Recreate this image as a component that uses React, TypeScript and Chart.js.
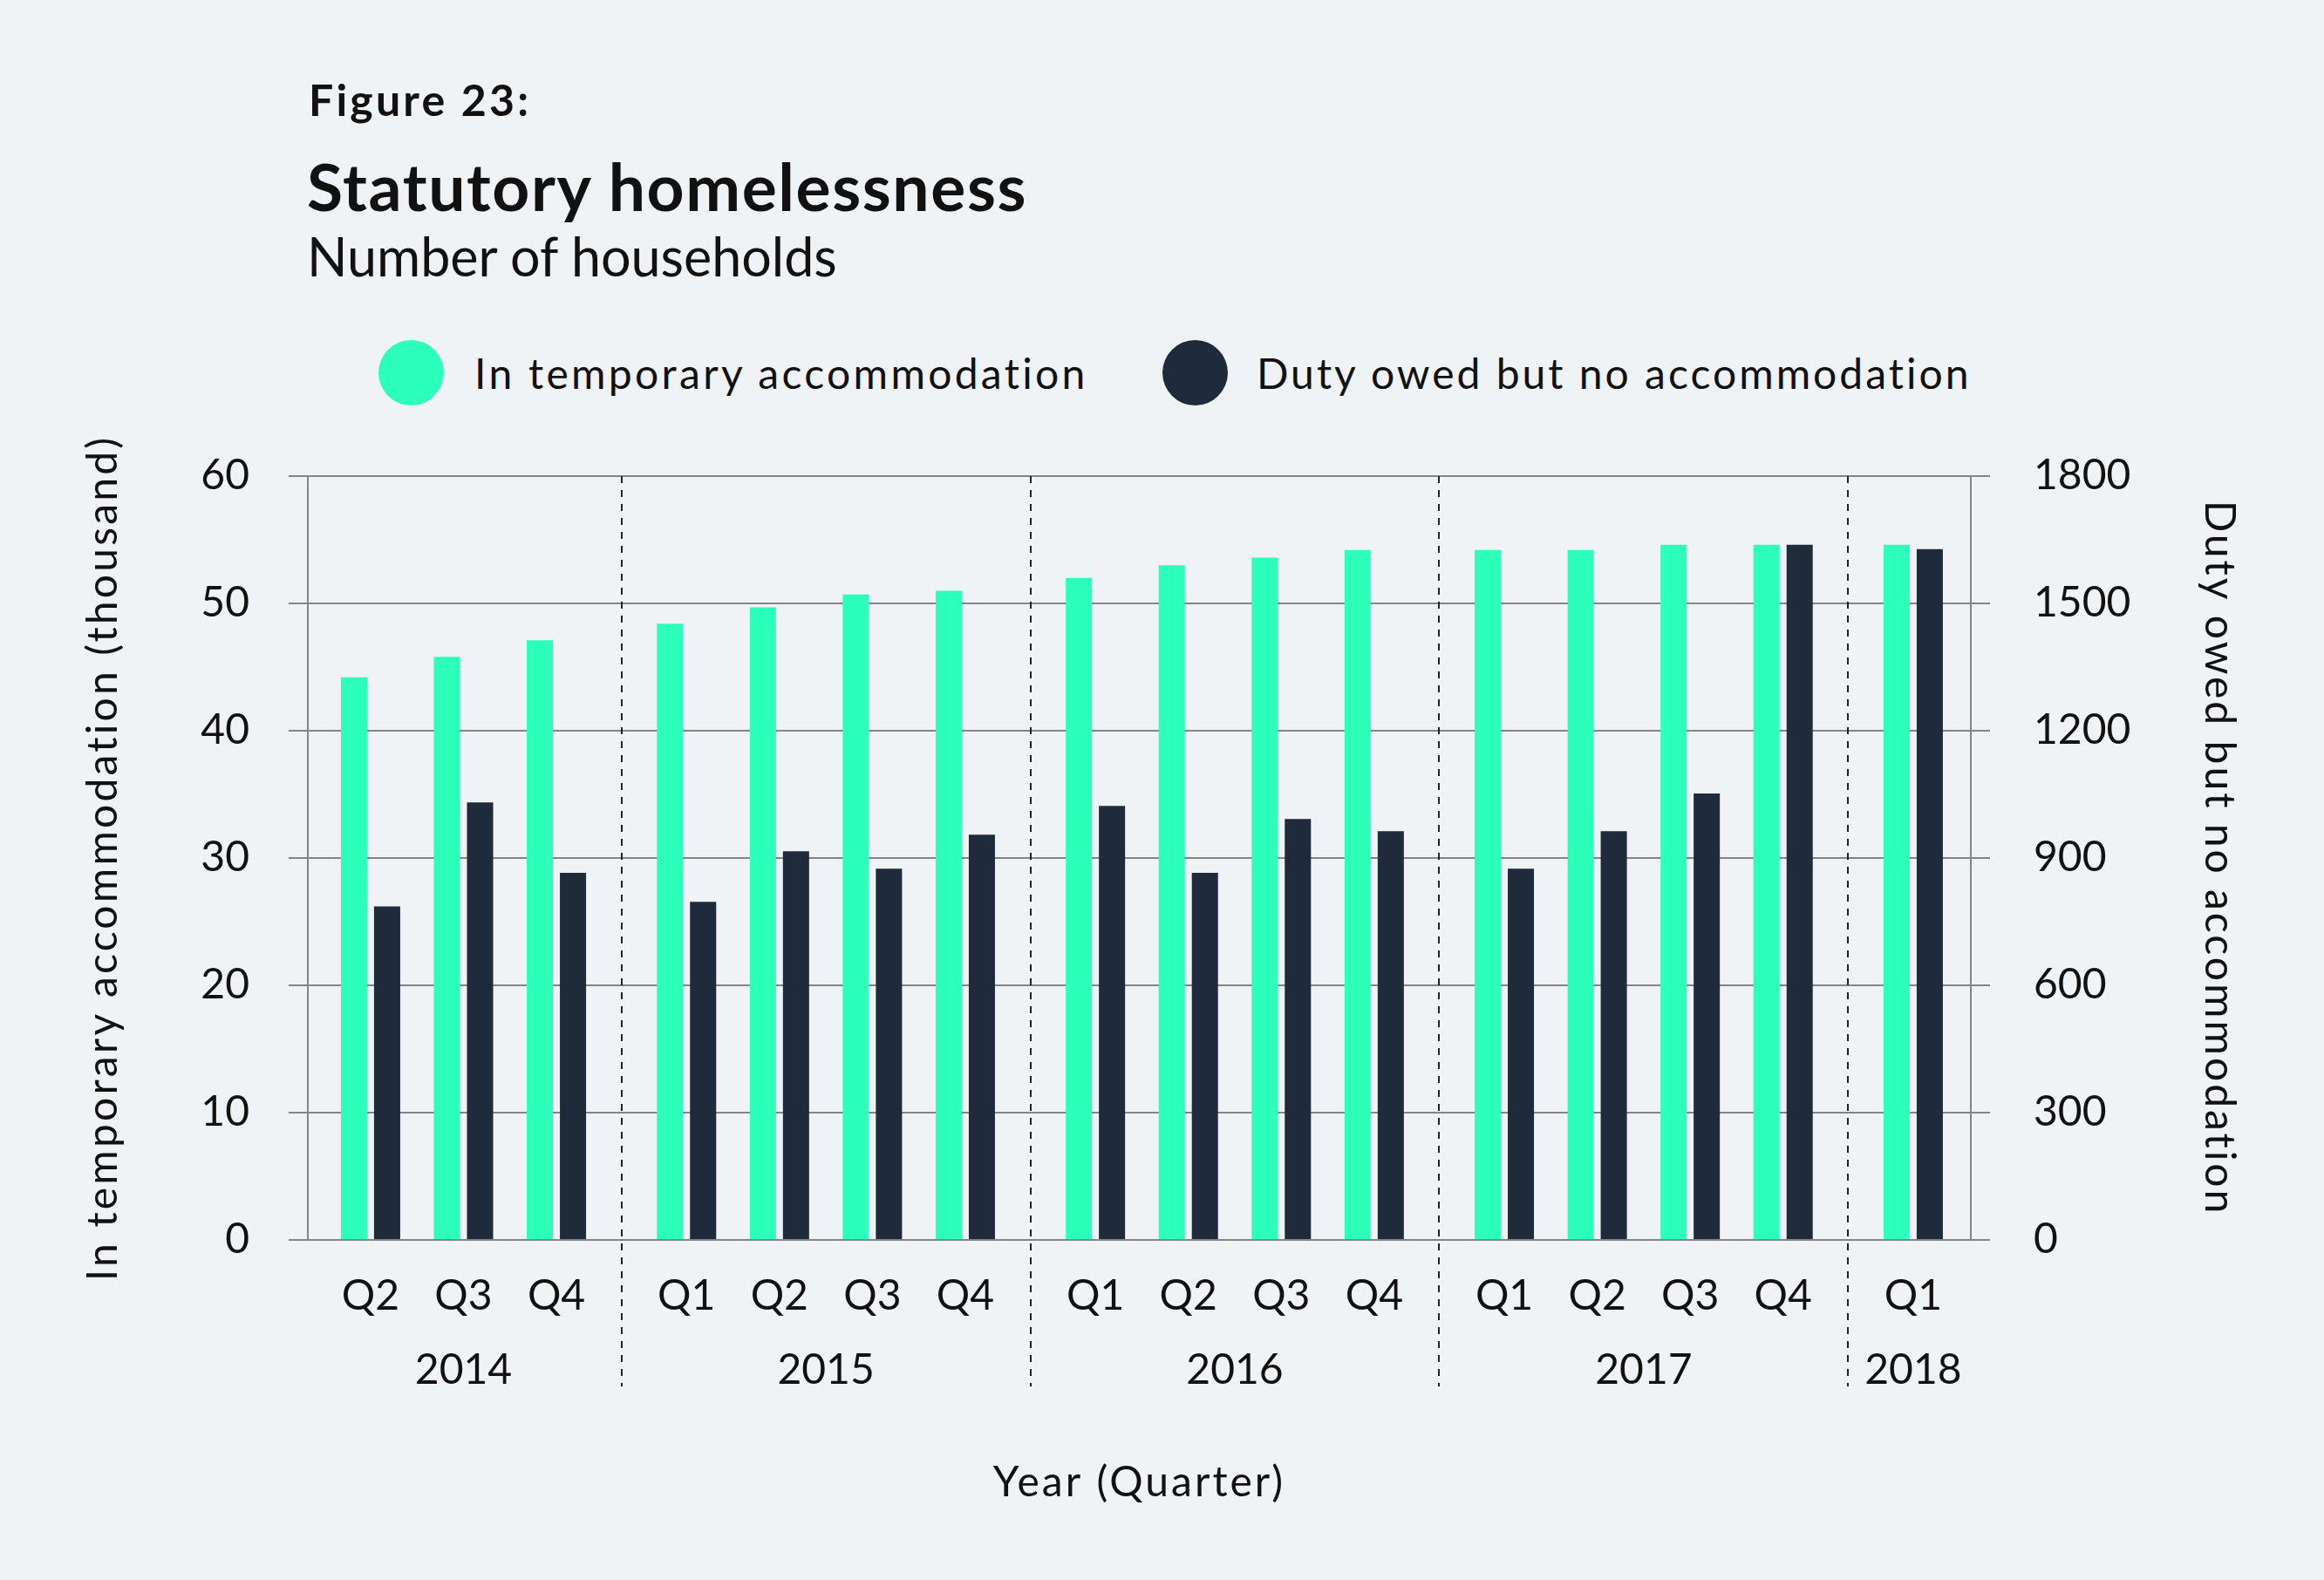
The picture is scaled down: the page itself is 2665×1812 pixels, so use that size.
import { useEffect, useRef } from "react"
import { Chart, registerables } from "chart.js"

Chart.register(...registerables)

// quarters shown along the bottom, with the year each one belongs to
const quarterLabels = ["Q2", "Q3", "Q4", "Q1", "Q2", "Q3", "Q4", "Q1", "Q2", "Q3", "Q4", "Q1", "Q2", "Q3", "Q4", "Q1"]
const quarterYears = ["2014", "2014", "2014", "2015", "2015", "2015", "2015", "2016", "2016", "2016", "2016", "2017", "2017", "2017", "2017", "2018"]
const years = ["2014", "2015", "2016", "2017", "2018"]

// households in temporary accommodation (thousand) - left axis
const tempAccommodation = [44.2, 45.8, 47.1, 48.4, 49.7, 50.7, 51.0, 52.0, 53.0, 53.6, 54.2, 54.2, 54.2, 54.6, 54.6, 54.6]
// duty owed but no accommodation - right axis
const dutyOwedNoAccommodation = [786, 1031, 865, 797, 916, 875, 955, 1023, 865, 992, 963, 875, 963, 1052, 1638, 1628]

const leftTicks = [0, 10, 20, 30, 40, 50, 60]
const rightTicks = [0, 300, 600, 900, 1200, 1500, 1800]

const BG = "#eff3f6"
const GREEN = "#2cffb9"
const NAVY = "#1f2a3a"
const GRID = "#858585"
const TEXT = "#111111"
const FONT = "Lato, 'Open Sans', sans-serif"

// extra space between years, in quarter widths
const YEAR_GAP = 0.4
const positions = quarterLabels.map((_, i) => i + YEAR_GAP * years.indexOf(quarterYears[i]))
const yearCenters = years.map((yr) => {
  const idx = quarterYears.map((y, i) => (y === yr ? i : -1)).filter((i) => i >= 0)
  return (positions[idx[0]] + positions[idx[idx.length - 1]]) / 2
})
const boundaries = positions.slice(1).map((p, i) => (quarterYears[i + 1] !== quarterYears[i] ? (p + positions[i]) / 2 : null)).filter((v) => v !== null) as number[]

const X_MIN = -0.675
const X_MAX = 17.22

const yearSeparators = {
  id: "yearSeparators",
  beforeDatasetsDraw(chart: any) {
    const { ctx, chartArea, scales } = chart
    ctx.save()
    ctx.strokeStyle = "#222222"
    ctx.lineWidth = 2
    ctx.setLineDash([8, 8])
    boundaries.forEach((b) => {
      const px = Math.round(scales.x.getPixelForValue(b))
      ctx.beginPath()
      ctx.moveTo(px, chartArea.top)
      ctx.lineTo(px, scales.x2.top + 60)
      ctx.stroke()
    })
    ctx.restore()
  },
}

// the axis titles in the original are set with wide tracking
const spacedTitle = (s: any, spacing: string) => {
  if (s._spaced) return
  const orig = s.drawTitle.bind(s)
  s.drawTitle = () => {
    const c = s.ctx
    const prev = c.letterSpacing
    c.letterSpacing = spacing
    orig()
    c.letterSpacing = prev
  }
  s._spaced = true
}

export default function App() {
  const chartRef = useRef<HTMLCanvasElement>(null)
  const chartInstance = useRef<Chart | null>(null)

  useEffect(() => {
    if (!chartRef.current) return
    if (chartInstance.current) chartInstance.current.destroy()
    const ctx = chartRef.current.getContext("2d")
    if (!ctx) return

    const tickFont = { family: FONT, size: 48 }
    const titleFont = { family: FONT, size: 48, weight: "400" }

    chartInstance.current = new Chart(ctx, {
      type: "bar",
      data: {
        datasets: [
          {
            label: "In temporary accommodation",
            data: tempAccommodation.map((v, i) => ({ x: positions[i], y: v })),
            backgroundColor: GREEN,
            yAxisID: "y",
            categoryPercentage: 0.713,
            barPercentage: 0.79,
          },
          {
            label: "Duty owed but no accommodation",
            data: dutyOwedNoAccommodation.map((v, i) => ({ x: positions[i], y: v })),
            backgroundColor: NAVY,
            yAxisID: "y1",
            categoryPercentage: 0.713,
            barPercentage: 0.79,
          },
        ],
      },
      options: {
        responsive: true,
        maintainAspectRatio: false,
        animation: false,
        layout: { padding: { left: 60, right: 60, top: 546, bottom: 0 } },
        plugins: {
          legend: { display: false },
          tooltip: { enabled: false },
        },
        scales: {
          x: {
            type: "linear",
            position: "bottom",
            min: X_MIN,
            max: X_MAX,
            offset: false,
            afterBuildTicks: (s: any) => {
              s.ticks = positions.map((v) => ({ value: v }))
            },
            afterFit: (s: any) => {
              s.height = 108
            },
            ticks: {
              autoSkip: false,
              maxRotation: 0,
              padding: 36,
              font: tickFont,
              color: TEXT,
              callback: (_v: any, i: number) => quarterLabels[i],
            },
            grid: { display: false, drawTicks: false, tickLength: 0, offset: false },
            border: { display: false },
          },
          x2: {
            type: "linear",
            position: "bottom",
            min: X_MIN,
            max: X_MAX,
            offset: false,
            afterBuildTicks: (s: any) => {
              s.ticks = yearCenters.map((v) => ({ value: v }))
            },
            afterFit: (s: any) => {
              s.height = 282
              spacedTitle(s, "3px")
            },
            ticks: {
              autoSkip: false,
              maxRotation: 0,
              padding: 13,
              font: tickFont,
              color: TEXT,
              callback: (_v: any, i: number) => years[i],
            },
            grid: { display: false, drawTicks: false, tickLength: 0 },
            border: { display: false },
            title: {
              display: true,
              text: "Year (Quarter)",
              font: titleFont,
              color: TEXT,
              padding: { top: 0, bottom: 83 },
            },
          },
          y: {
            position: "left",
            min: 0,
            max: 60,
            afterBuildTicks: (s: any) => {
              s.ticks = leftTicks.map((v) => ({ value: v }))
            },
            afterFit: (s: any) => {
              s.width = 293
              spacedTitle(s, "3.2px")
            },
            ticks: { font: tickFont, color: TEXT, padding: 45 },
            grid: { color: GRID, lineWidth: 2, tickLength: 22, drawTicks: true },
            border: { display: true, color: GRID, width: 2 },
            title: {
              display: true,
              text: "In temporary accommodation (thousand)",
              font: titleFont,
              color: TEXT,
              padding: { top: 30, bottom: 0 },
            },
          },
          y1: {
            position: "right",
            min: 0,
            max: 1800,
            afterBuildTicks: (s: any) => {
              s.ticks = rightTicks.map((v) => ({ value: v }))
            },
            afterFit: (s: any) => {
              s.width = 345
              spacedTitle(s, "3px")
            },
            ticks: { font: tickFont, color: TEXT, padding: 50, callback: (v: any) => String(v) },
            grid: { color: GRID, lineWidth: 2, tickLength: 22, drawTicks: true, drawOnChartArea: false },
            border: { display: true, color: GRID, width: 2 },
            title: {
              display: true,
              text: "Duty owed but no accommodation",
              font: titleFont,
              color: TEXT,
              padding: { top: 32, bottom: 0 },
            },
          },
        },
      } as any,
      plugins: [yearSeparators],
    })

    return () => {
      if (chartInstance.current) {
        chartInstance.current.destroy()
        chartInstance.current = null
      }
    }
  }, [])

  const text = { position: "absolute" as const, lineHeight: 1, fontFamily: FONT, color: TEXT, whiteSpace: "nowrap" as const }
  const dot = { position: "absolute" as const, width: 75, height: 75, borderRadius: "50%", top: 390 }

  return (
    <div style={{ position: "absolute", left: 0, top: 0, width: 2665, height: 1812, background: BG, overflow: "hidden" }}>
      <div style={{ ...text, left: 354, top: 89, fontSize: 50, fontWeight: 700, letterSpacing: 3.2 }}>Figure 23:</div>
      <div style={{ ...text, left: 352, top: 176, fontSize: 75, fontWeight: 700, letterSpacing: 1.6 }}>Statutory homelessness</div>
      <div style={{ ...text, left: 352, top: 263, fontSize: 61, fontWeight: 400 }}>Number of households</div>

      <div style={{ ...dot, left: 434, background: GREEN }} />
      <div style={{ ...text, left: 544, top: 404, fontSize: 48, fontWeight: 400, letterSpacing: 3.3 }}>In temporary accommodation</div>
      <div style={{ ...dot, left: 1333, background: NAVY }} />
      <div style={{ ...text, left: 1441, top: 404, fontSize: 48, fontWeight: 400, letterSpacing: 3 }}>Duty owed but no accommodation</div>

      <div style={{ position: "absolute", left: 0, top: 0, width: 2665, height: 1812 }}>
        <canvas ref={chartRef} />
      </div>
    </div>
  )
}
